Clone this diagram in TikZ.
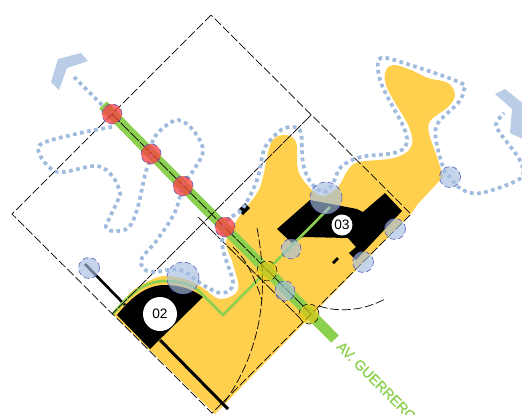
\documentclass[tikz,border=0pt]{standalone}
\usepackage{fontspec}
\setmainfont{Liberation Sans}
\newfontfamily\avfont[FakeBold=0.8]{Liberation Sans}
\usepackage{xcolor}
\definecolor{sitey}{RGB}{255,208,77}
\definecolor{roadg}{RGB}{140,208,80}
\definecolor{trailb}{RGB}{160,187,222}
\definecolor{chevb}{RGB}{185,205,230}
\definecolor{hotr}{RGB}{250,60,60}
\definecolor{nodey}{RGB}{225,200,20}
\definecolor{spotb}{RGB}{165,190,225}
\begin{document}
\begin{tikzpicture}[
  x=0.02cm, y=-0.02cm,
  site/.style={fill=sitey},
  block/.style={fill=black},
  chevron/.style={fill=chevb},
  trail/.style={draw=trailb, line width=2.1pt, dash pattern=on 2.1pt off 2pt},
  guide/.style={draw=black, line width=0.4pt, dash pattern=on 5pt off 1.6pt},
  spot/.style={circle, draw=black!40!blue!70, densely dashed, line width=0.3pt, fill=spotb, fill opacity=0.65, minimum size=0.42cm, inner sep=0pt},
  bigspot/.style={spot, minimum size=0.64cm},
  hot/.style={spot, fill=hotr, fill opacity=0.75, minimum size=0.4cm},
  cross/.style={spot, draw=black, fill=nodey, minimum size=0.4cm},
  badge/.style={circle, fill=white, inner sep=0pt, font=\fontsize{7.8pt}{8pt}\selectfont},
]
\clip (0,0) rectangle (522,414);
\fill[white] (0,0) rectangle (522,414);

% Site
\fill[site] (215,414) -- (113,314) -- plot[smooth, tension=0.6] coordinates {(113,314) (130,293) (147,282) (163,276) (185,279) (203,288) (220,299) (238,290) (233,264) (226,241) (237,220) (257,193) (263,177) (271,143) (284,135) (296,142) (298,170) (309,187) (323,196) (338,187) (348,170) (359,162) (394,158) (411,147) (409,127) (388,90) (385,73) (393,65) (411,70) (428,78) (448,83) (455,95) (448,107) (431,120) (429,133) (438,160) (443,177)} -- (417,205) -- (411,214) -- cycle;

% Road
\coordinate (road_a) at (103,105);
\coordinate (road_b) at (335,339);
\draw[roadg, line width=6pt] (road_a) -- (road_b);

% Buildings
\fill[block] (117,315) .. controls (133,295) and (148,285) .. (165,285) .. controls (180,285) and (192,289) .. (203,297) -- (150,349) -- cycle;
\fill[block] (277,229) -- (310,200) -- (357,209) -- (363,212) -- (385,193) -- (402,211) -- (356,260) -- (349,253) -- (356,247) -- (348,238) -- (303,237) -- (292,243) -- cycle;
\fill[block] (238,210) -- (245,203) -- (250,208) -- (243,215) -- cycle;
\fill[block] (332,262) -- (337,257) -- (339,259) -- (334,264) -- cycle;

% Black lines
\coordinate (wall_a) at (85,264);
\coordinate (wall_b) at (125,305);
\coordinate (wall_c) at (160,340);
\coordinate (wall_d) at (228,409);
\draw[line width=1.5pt] (wall_a) -- (wall_b);
\draw[line width=1.7pt] (wall_c) -- (wall_d);

% Green path
\draw[roadg, line width=1.5pt] (113,314) .. controls (130,293) and (145,282) .. (163,281) .. controls (178,281) and (190,283) .. (199,291) -- (223,315) -- (330,207);

% Square
\coordinate (sq_t) at (211,15);
\coordinate (sq_l) at (12,214);
\coordinate (sq_b) at (212,413);
\coordinate (sq_r) at (411,214);
\coordinate (sq_m) at (311,115);
\coordinate (sq_n) at (112,314);
\draw[guide] (sq_t) -- (sq_l) -- (sq_b) -- (sq_r) -- cycle;
\draw[guide, dash pattern=on 7pt off 0.8pt] (sq_m) -- (sq_n);
\draw[guide, dash pattern=on 7pt off 0.8pt] (111,113) -- (310,313);
\draw[guide, dash pattern=on 7pt off 0.8pt] (198,217) -- (300,318);

% Arcs
\draw[guide] (257,228) .. controls (268,285) and (265,345) .. (224,403);
\draw[guide] (233,247) .. controls (243,257) and (250,265) .. (262,300);
\draw[guide] (319,306) .. controls (340,313) and (365,310) .. (385,299);

% Trails
\draw[trail] (74,77) -- (111,114);
\draw[trail] plot[smooth, tension=0.6] coordinates {(112,127) (80,133) (43,143) (39,153) (50,168) (63,172) (97,166) (113,177) (120,193) (118,200) (110,217) (106,227) (113,231) (128,228) (137,210) (145,175) (151,155) (153,140) (163,128) (178,120) (193,130) (203,150) (195,168) (183,186) (175,212) (157,240) (142,258) (143,268) (153,272) (180,270) (203,285) (222,293) (233,283) (223,250) (223,228) (230,218) (243,208) (257,180) (263,153) (268,143) (281,130) (294,127) (301,133) (303,163) (311,183) (324,192) (333,183) (341,167) (361,157) (394,153) (406,145) (404,128) (384,90) (378,70) (381,58) (404,63) (459,82) (464,90) (458,103) (438,123) (436,140) (444,170) (450,177) (461,189) (481,193) (518,180) (523,170) (518,157) (498,130) (497,122) (504,113)};

% Chevrons
\fill[chevron] (51,82) -- (58,59) -- (81,53) -- (88,61) -- (67,68) -- (59,90) -- cycle;
\fill[chevron] (495,94) -- (505,89) -- (535,113) -- (525,140) -- (510,133) -- (512,109) -- cycle;

% Spots
\node[hot] (red_a) at (112,114) {};
\node[hot] (red_b) at (151,154) {};
\node[hot] (red_c) at (183,186) {};
\node[hot] (red_d) at (225,227) {};
\node[cross] (yel_a) at (267,271) {};
\node[cross] (yel_b) at (309,314) {};
\node[spot, minimum size=0.4cm] (blu_a) at (285,291) {};
\node[spot, minimum size=0.4cm] (blu_b) at (291,249) {};
\node[spot] (blu_c) at (363,262) {};
\node[spot] (blu_d) at (395,229) {};
\node[spot] (blu_e) at (89,268) {};
\node[spot] (blu_f) at (450,177) {};
\node[bigspot] (big_a) at (326,198) {};
\node[bigspot] (big_b) at (183,278) {};

% Labels
\node[badge, minimum size=0.68cm] (lbl_02) at (160,314) {02};
\node[badge, minimum size=0.42cm] (lbl_03) at (342,225) {03};
\node[anchor=west, rotate=-45, text=roadg, inner sep=0pt, font=\avfont\fontsize{8pt}{9pt}\selectfont] (lbl_av) at (339,344) {AV. GUERRERO};
\end{tikzpicture}
\end{document}
